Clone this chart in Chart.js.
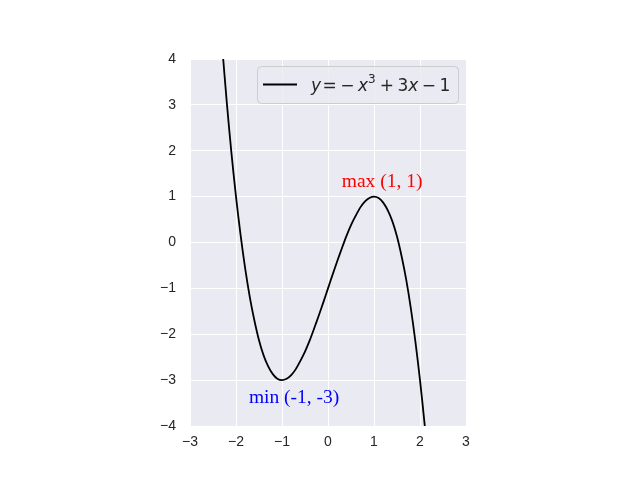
<!DOCTYPE html>
<html>
<head>
<meta charset="utf-8">
<script src="https://cdn.jsdelivr.net/npm/chart.js@4/dist/chart.umd.min.js"></script>
<style>
  html, body { margin: 0; padding: 0; background: #fff; }
  #box { width: 640px; height: 480px; }
</style>
</head>
<body>
<div id="box"><canvas id="grafico" width="640" height="480"></canvas></div>
<script>
// valores
const xs = [-2.3, -2.2, -2.1, -2.0, -1.9, -1.8, -1.7, -1.6, -1.5, -1.4, -1.3, -1.2, -1.1, -1.0,
            -0.9, -0.8, -0.7, -0.6, -0.5, -0.4, -0.3, -0.2, -0.1, 0.0, 0.1, 0.2, 0.3, 0.4, 0.5,
            0.6, 0.7, 0.8, 0.9, 1.0, 1.1, 1.2, 1.3, 1.4, 1.5, 1.6, 1.7, 1.8, 1.9, 2.0, 2.1, 2.2];
const ys = [4.27, 3.05, 1.96, 1.00, 0.16, -0.57, -1.19, -1.70, -2.13, -2.46, -2.70, -2.87, -2.97, -3.00,
            -2.97, -2.89, -2.76, -2.58, -2.38, -2.14, -1.87, -1.59, -1.30, -1.00, -0.70, -0.41, -0.13, 0.14, 0.38,
            0.58, 0.76, 0.89, 0.97, 1.00, 0.97, 0.87, 0.70, 0.46, 0.13, -0.30, -0.81, -1.43, -2.16, -3.00, -3.96, -5.05];
const xTicks = [-3, -2, -1, 0, 1, 2, 3];
const yTicks = [-4, -3, -2, -1, 0, 1, 2, 3, 4];
const anotacoes = [
  { texto: 'max (1, 1)', x: 0.3, y: 1.22, cor: 'red' },
  { texto: 'min (-1, -3)', x: -1.72, y: -3.5, cor: 'blue' }
];

const pontos = xs.map((x, i) => ({ x: x, y: ys[i] }));
const menos = v => String(v).replace('-', '\u2212');

// fundo cinza + anotações + legenda
const extras = {
  id: 'extras',
  beforeDraw(chart) {
    const a = chart.chartArea, ctx = chart.ctx;
    ctx.save();
    ctx.fillStyle = '#EAEAF2';
    ctx.fillRect(a.left, a.top, a.right - a.left, a.bottom - a.top);
    ctx.restore();
  },
  afterDraw(chart) {
    const ctx = chart.ctx, sx = chart.scales.x, sy = chart.scales.y;
    ctx.save();
    ctx.font = '19.5px "Liberation Serif", "Times New Roman", serif';
    ctx.textBaseline = 'alphabetic';
    ctx.textAlign = 'left';
    anotacoes.forEach(an => {
      ctx.fillStyle = an.cor;
      ctx.fillText(an.texto, sx.getPixelForValue(an.x), sy.getPixelForValue(an.y));
    });

    // legenda
    const lx = 257, ly = 66, lw = 201, lh = 37;
    ctx.beginPath();
    ctx.roundRect(lx + 0.5, ly + 0.5, lw, lh, 4);
    ctx.fillStyle = 'rgba(234,234,242,0.8)';
    ctx.fill();
    ctx.strokeStyle = '#CCCCCC';
    ctx.lineWidth = 1;
    ctx.stroke();
    ctx.beginPath();
    ctx.moveTo(263, 84.5);
    ctx.lineTo(297, 84.5);
    ctx.strokeStyle = '#000';
    ctx.lineWidth = 1.8;
    ctx.stroke();

    const it = 'italic 17px "DejaVu Sans", sans-serif';
    const rg = '17px "DejaVu Sans", sans-serif';
    const sup = '12px "DejaVu Sans", sans-serif';
    const partes = [
      [it, 'y', 0, 1.5], [rg, '=', 0, 3.5], [rg, '\u2212', 0, 3.5], [it, 'x', 0, 0], [sup, '3', -8, 4],
      [rg, '+', 0, 3.5], [rg, '3', 0, 0], [it, 'x', 0, 3.5], [rg, '\u2212', 0, 3.5], [rg, '1', 0, 0]
    ];
    let px = 311;
    const base = 91;
    ctx.fillStyle = '#262626';
    partes.forEach(p => {
      ctx.font = p[0];
      ctx.fillText(p[1], px, base + p[2]);
      px += ctx.measureText(p[1]).width + p[3];
    });
    ctx.restore();
  }
};

const tickFont = { family: '"Liberation Sans", Arial, sans-serif', size: 14 };

new Chart(document.getElementById('grafico').getContext('2d'), {
  type: 'scatter',
  data: {
    datasets: [{
      data: pontos,
      showLine: true,
      borderColor: '#000',
      borderWidth: 1.8,
      pointRadius: 0,
      tension: 0.3,
      fill: false
    }]
  },
  options: {
    responsive: false,
    animation: false,
    layout: { padding: { left: 158, right: 174, top: 59, bottom: 24 } },
    plugins: { legend: { display: false }, tooltip: { enabled: false } },
    scales: {
      x: {
        type: 'linear', min: -3, max: 3,
        afterBuildTicks: s => { s.ticks = xTicks.map(v => ({ value: v })); },
        afterFit: s => { s.height = 30; },
        grid: { color: '#fff', lineWidth: 1, drawTicks: false },
        border: { display: false },
        ticks: { color: '#262626', font: tickFont, padding: 8, maxRotation: 0, callback: v => menos(v) }
      },
      y: {
        type: 'linear', min: -4, max: 4,
        afterBuildTicks: s => { s.ticks = yTicks.map(v => ({ value: v })); },
        afterFit: s => { s.width = 32; },
        grid: { color: '#fff', lineWidth: 1, drawTicks: false },
        border: { display: false },
        ticks: { color: '#262626', font: tickFont, padding: 14, callback: v => menos(v) }
      }
    }
  },
  plugins: [extras]
});
</script>
</body>
</html>
